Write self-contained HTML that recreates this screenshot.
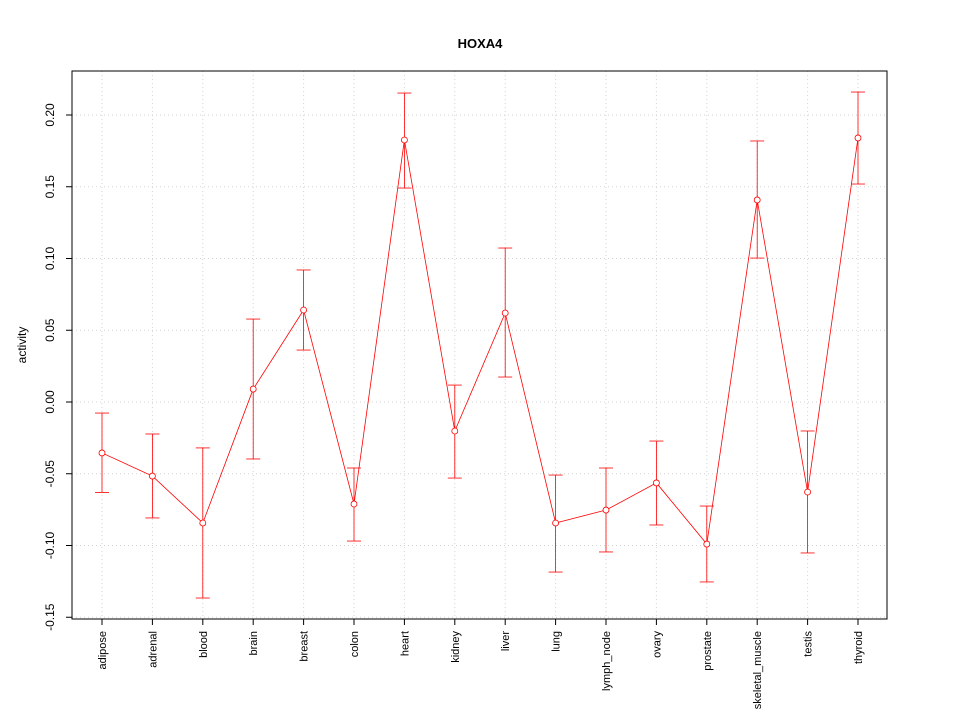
<!DOCTYPE html>
<html><head><meta charset="utf-8"><style>
body{margin:0;background:#fff;}
svg{display:block;font-family:"Liberation Sans",sans-serif;}
</style></head><body>
<svg id="chart" width="960" height="720"></svg>
<script>
const categories=["adipose","adrenal","blood","brain","breast","colon","heart","kidney","liver","lung","lymph_node","ovary","prostate","skeletal_muscle","testis","thyroid"];
const values=[-0.0355,-0.0516,-0.0843,0.009,0.0641,-0.0711,0.1826,-0.0202,0.062,-0.0843,-0.0753,-0.0564,-0.099,0.1408,-0.0627,0.184];
const upper=[-0.0077,-0.0223,-0.032,0.0578,0.092,-0.046,0.2153,0.0118,0.1073,-0.0509,-0.046,-0.0272,-0.0725,0.1819,-0.0202,0.216];
const lower=[-0.063,-0.0808,-0.1366,-0.0397,0.0362,-0.0969,0.1491,-0.053,0.0174,-0.1185,-0.1045,-0.0857,-0.1254,0.1003,-0.1052,0.1519];
const yTicks=[-0.15,-0.10,-0.05,0.00,0.05,0.10,0.15,0.20];
const yTickLabels=["-0.15","-0.10","-0.05","0.00","0.05","0.10","0.15","0.20"];

const svg=document.getElementById('chart');
const NS='http://www.w3.org/2000/svg';
const L=72,R=887,T=71,B=619;
function y(v){return 402-v*1435;}
function x(i){return 102+i*(858-102)/(categories.length-1);}
function mk(tag,attrs,parent){const e=document.createElementNS(NS,tag);for(const k in attrs)e.setAttribute(k,attrs[k]);(parent||svg).appendChild(e);return e;}

const grid=mk('g',{});


categories.forEach((c,i)=>mk('line',{x1:x(i),x2:x(i),y1:T,y2:B,stroke:'#d3d3d3','stroke-dasharray':'1,3'},grid));
yTicks.forEach(t=>mk('line',{x1:L,x2:R,y1:y(t),y2:y(t),stroke:'#d3d3d3','stroke-dasharray':'1,3'},grid));

const box=mk('rect',{x:L,y:T,width:R-L,height:B-T,fill:'none',stroke:'#000'});



const title=mk('text',{x:480,y:48,'text-anchor':'middle','font-size':13,'font-weight':'bold'});
title.textContent='HOXA4';



const yax=mk('g',{});


yTicks.forEach((t,i)=>{
  mk('line',{x1:L-6,x2:L,y1:y(t),y2:y(t),stroke:'#000'},yax);
  const tx=mk('text',{x:0,y:0,transform:`translate(${L-18},${y(t)}) rotate(-90)`,'text-anchor':'middle','font-size':12},yax);
  tx.textContent=yTickLabels[i];
});
const yt=mk('text',{transform:'translate(26,345) rotate(-90)','text-anchor':'middle','font-size':12});
yt.textContent='activity';



const xax=mk('g',{});


categories.forEach((c,i)=>{
  mk('line',{x1:x(i),x2:x(i),y1:B,y2:B+6,stroke:'#000'},xax);
  const tx=mk('text',{transform:`translate(${x(i)+4},${B+12}) rotate(-90)`,'text-anchor':'end','font-size':11},xax);
  tx.textContent=c;
});

const ser=mk('g',{});


mk('polyline',{points:values.map((v,i)=>x(i)+','+y(v)).join(' '),fill:'none',stroke:'#ff0000','stroke-width':0.8},ser);
values.forEach((v,i)=>{
  const g=mk('g',{},ser);
  
  
  mk('line',{x1:x(i),x2:x(i),y1:y(upper[i]),y2:y(lower[i]),stroke:'#ff0000','stroke-width':0.8},g);
  mk('line',{x1:x(i)-7,x2:x(i)+7,y1:y(upper[i]),y2:y(upper[i]),stroke:'#ff0000','stroke-width':0.8},g);
  mk('line',{x1:x(i)-7,x2:x(i)+7,y1:y(lower[i]),y2:y(lower[i]),stroke:'#ff0000','stroke-width':0.8},g);
  const p=mk('circle',{cx:x(i),cy:y(v),r:3,fill:'#fff',stroke:'#ff0000','stroke-width':0.8},g);
  
  
});
</script>
</body></html>
